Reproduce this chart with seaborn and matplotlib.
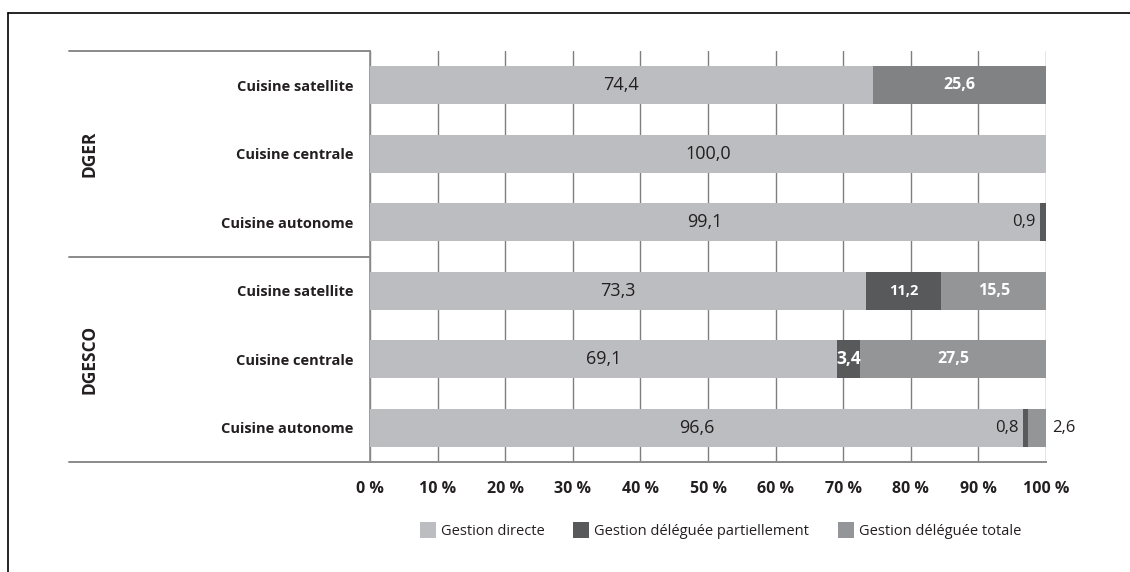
import numpy as np
import pandas as pd
import matplotlib
matplotlib.use("Agg")
import matplotlib.pyplot as plt
import seaborn as sns
from matplotlib.lines import Line2D
from matplotlib.transforms import blended_transform_factory

# data
groups = ["DGER", "DGER", "DGER", "DGESCO", "DGESCO", "DGESCO"]
kitchens = ["Cuisine satellite", "Cuisine centrale", "Cuisine autonome",
            "Cuisine satellite", "Cuisine centrale", "Cuisine autonome"]
directe = [74.4, 100.0, 99.1, 73.3, 69.1, 96.6]
partielle = [0.0, 0.0, 0.9, 11.2, 3.4, 0.8]
totale = [25.6, 0.0, 0.0, 15.5, 27.5, 2.6]
series_names = ["Gestion directe", "Gestion déléguée partiellement", "Gestion déléguée totale"]
x_ticks = [0, 10, 20, 30, 40, 50, 60, 70, 80, 90, 100]

c_directe = "#bcbdc0"
c_partielle = "#58595b"
c_totale = "#939598"
c_totale_dger = "#808285"
dark = "#231f20"
line_gray = "#8a8a8a"

df = pd.DataFrame({"group": groups, "kitchen": kitchens,
                   "directe": directe, "partielle": partielle, "totale": totale})
df["row"] = df["group"] + "|" + df["kitchen"]
df["cum2"] = df["directe"] + df["partielle"]
df["cum3"] = df["cum2"] + df["totale"]
order = list(df["row"])

sns.set_theme(style="white")
plt.rcParams["font.family"] = ["Open Sans", "DejaVu Sans"]

fig = plt.figure(figsize=(11.3, 5.72), dpi=100)
ax = fig.add_axes([370 / 1130, 110 / 572, 676 / 1130, 411 / 572])

# stacked bars drawn as overlapping cumulative sums
bw = 0.56
tot_colors = [c_totale_dger if (g == "DGER" and t > 0) else c_totale for g, t in zip(groups, totale)]
sns.barplot(data=df, x="cum3", y="row", hue="row", order=order, hue_order=order,
            palette=tot_colors, orient="h", width=bw, legend=False, ax=ax, zorder=3)
sns.barplot(data=df, x="cum2", y="row", order=order, color=c_partielle,
            orient="h", width=bw, ax=ax, zorder=3, saturation=1)
sns.barplot(data=df, x="directe", y="row", order=order, color=c_directe,
            orient="h", width=bw, ax=ax, zorder=3, saturation=1)
for cont in ax.containers:
    for p in cont:
        p.set_linewidth(0)

ax.set_xlim(0, 100)
ax.set_ylim(5.5, -0.5)
ax.set_xlabel("")
ax.set_ylabel("")

ax.set_xticks(x_ticks)
ax.set_xticklabels([f"{v} %" for v in x_ticks], fontsize=11.5, fontweight="bold", color=dark)
ax.set_yticks(range(len(order)))
ax.set_yticklabels(kitchens, fontsize=10.5, fontweight="bold", color=dark)
ax.tick_params(axis="x", length=0, pad=14)
ax.tick_params(axis="y", length=0, pad=12)

ax.grid(axis="x", color="#7f7f7f", linewidth=1.0, zorder=1)
ax.grid(axis="y", visible=False)
for s in ["top", "right"]:
    ax.spines[s].set_visible(False)
ax.spines["left"].set_color(line_gray)
ax.spines["left"].set_linewidth(1.2)
ax.spines["bottom"].set_color(line_gray)
ax.spines["bottom"].set_linewidth(1.4)

# group separators on the left
xmin = (69 - 370) / 676
for yv in [-0.5, 2.5, 5.5]:
    ax.axhline(yv, xmin=xmin, xmax=0, color=line_gray, linewidth=1.4, clip_on=False, zorder=4)

trans = blended_transform_factory(ax.transAxes, ax.transData)
for g, yc in [("DGER", 1), ("DGESCO", 4)]:
    ax.text((90 - 370) / 676, yc, g, transform=trans, rotation=90, ha="center", va="center",
            fontsize=12.5, fontweight="bold", color=dark)

def fmt(v):
    return f"{v:.1f}".replace(".", ",")

# value labels
for i in range(len(order)):
    d, p, t = directe[i], partielle[i], totale[i]
    ax.text(d / 2, i, fmt(d), ha="center", va="center", fontsize=13,
            color=dark, zorder=5)
    if p > 0:
        if p < 2:
            ax.text(d - 0.6, i, fmt(p), ha="right", va="center", fontsize=12,
                    color=dark, zorder=5)
        else:
            ax.text(d + p / 2, i, fmt(p), ha="center", va="center",
                    fontsize=10.5 if p > 5 else 12.5, fontweight="bold", color="white", zorder=5)
    if t > 0:
        if t < 5:
            ax.text(d + p + t + 0.9, i, fmt(t), ha="left", va="center", fontsize=12,
                    color=dark, zorder=5, clip_on=False)
        else:
            ax.text(d + p + t / 2, i, fmt(t), ha="center", va="center", fontsize=11.5,
                    fontweight="bold", color="white", zorder=5)

# legend
handles = [Line2D([0], [0], marker="s", linestyle="", markersize=11,
                  markerfacecolor=c, markeredgewidth=0)
           for c in [c_directe, c_partielle, c_totale]]
fig.legend(handles, series_names, loc="center", bbox_to_anchor=(0.638, 0.07), ncol=3,
           frameon=False, fontsize=10.5, handlelength=1.0, handletextpad=0.4,
           columnspacing=2.0, labelcolor=dark)

# outer frame (left and top)
fig.add_artist(Line2D([8 / 1130, 8 / 1130], [0, 1 - 13 / 572], transform=fig.transFigure,
                      color="black", linewidth=1.2))
fig.add_artist(Line2D([8 / 1130, 1], [1 - 13 / 572, 1 - 13 / 572], transform=fig.transFigure,
                      color="black", linewidth=1.2))

fig.savefig("out.png", dpi=100, facecolor="white")
